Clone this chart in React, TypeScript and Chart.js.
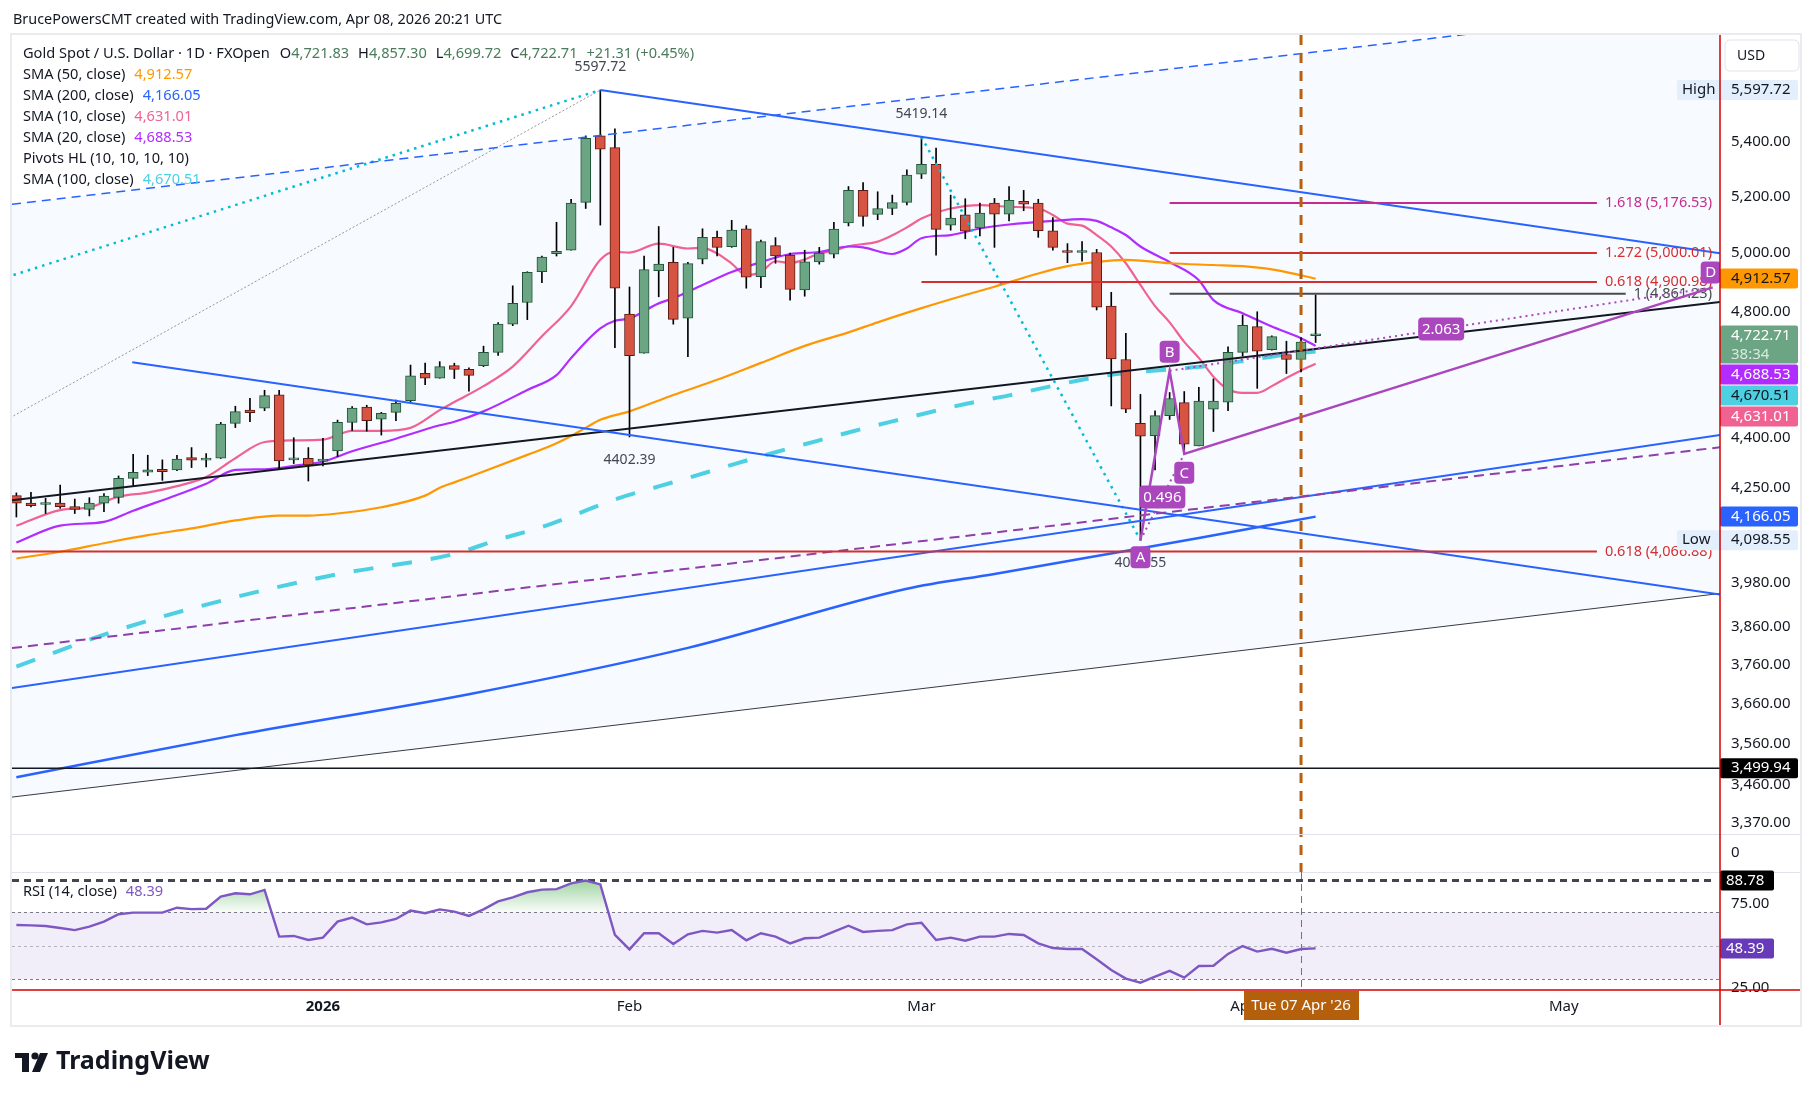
import { useEffect, useRef } from "react";
import { Chart, registerables } from "chart.js";

Chart.register(...registerables);

const FONT = '"Noto Sans", "DejaVu Sans", sans-serif';
const TEXT = "#131722";

// ---------- Daily bars: index 0 = Tue 2 Dec 2025 ... index 89 = Wed 8 Apr 2026 ----------
const opens = [4227,4205,4201,4205,4195,4187,4205,4222,4278,4296, 4305,4303,4340,4332,4338,4444,4485,4491,4533,4333, 4338,4329,4360,4447,4494,4457,4478,4514,4601,4585, 4625,4613,4625,4668,4760,4832,4936,4998,5010,5179, 5423,5379,4793,4665,4940,4968,4780,4979,5055,5022, 5085,4919,5026,4993,4874,4970,4996,5106,5222,5136, 5157,5179,5281,5317,5098,5134,5088,5176,5137,5183, 5176,5078,5005,5002,5002,4820,4645,4444,4406,4468, 4508,4375,4488,4510,4668,4752,4677,4661,4645,4721.83];
const highs = [4235,4237,4219,4258,4217,4221,4233,4285,4350,4347, 4333,4347,4370,4352,4447,4497,4522,4547,4547,4400, 4370,4398,4454,4496,4500,4478,4516,4627,4633,4638, 4633,4618,4688,4765,4888,4936,4990,5108,5190,5423, 5597.72,5449,4884,4990,5093,5020,4968,5085,5077,5115, 5096,5045,5054,5000,5010,5020,5108,5236,5250,5217, 5205,5297,5419.14,5377,5205,5192,5176,5193,5236,5222, 5190,5125,5033,5040,5013,4866,4730,4534,4483,4540, 4543,4556,4583,4686,4790,4801,4722,4704,4716,4857.30];
const lows = [4165,4194,4175,4190,4175,4168,4180,4205,4253,4286, 4272,4301,4310,4312,4337,4431,4449,4483,4305,4322, 4270,4315,4343,4422,4420,4408,4452,4511,4565,4585, 4584,4544,4622,4658,4755,4775,4899,4990,5010,5157, 5098,4683,4402.39,4665,4851,4760,4654,4963,4990,5020, 4880,4882,4965,4840,4853,4962,4983,5095,5094,5117, 5135,5170,5265,4993,5080,5050,5060,5020,5113,5149, 5055,5010,4967,4972,4807,4498,4477,4098.55,4303,4456, 4350,4375,4419,4483,4656,4553,4675,4600,4605,4699.72];
const closes = [4205,4198,4205,4195,4187,4205,4226,4278,4296,4303, 4298,4335,4332,4337,4442,4480,4477,4530,4330,4336, 4318,4333,4447,4491,4452,4475,4506,4593,4585,4622, 4613,4594,4668,4760,4829,4934,4986,5006,5176,5414, 5373,4880,4657,4943,4962,4776,4964,5055,5020,5080, 4917,5040,4990,4876,4970,5000,5084,5222,5129,5157, 5178,5278,5317,5083,5123,5077,5141,5137,5186,5172, 5078,5020,5002,5004,4816,4647,4488,4405,4468,4521, 4380,4513,4513,4668,4756,4672,4719,4645,4701.40,4722.71];

// RSI(14) per bar
const rsiValues = [62.3,62.1,61.7,60.5,59.3,61.3,64.3,68.7,69.7,69.7, 69.7,72.6,71.8,72.0,79.2,81.2,80.6,83.2,55.4,55.8, 53.4,54.8,64.3,66.7,62.7,63.9,65.9,70.9,69.3,71.6, 70.3,67.7,71.6,76.4,78.8,81.8,83.4,83.7,87.1,88.78, 86.5,56.4,47.8,57.4,57.4,51.0,56.8,58.8,57.8,59.3, 53.2,57.4,55.4,51.4,54.4,54.8,58.4,61.9,58.2,58.8, 59.3,62.7,63.7,53.4,54.8,53.0,55.4,55.4,57.0,56.4, 51.4,48.6,48.0,48.0,41.9,35.5,30.4,28.0,31.6,35.0, 31.0,37.9,38.1,45.1,49.8,46.5,48.2,45.8,48.0,48.39];

// Moving averages: [bar index, value]
const sma10Points = [[0,4140],[3,4185],[5,4193],[7,4224],[9,4236],[11,4255],[13,4282],[15,4338],[17,4387],[19,4392],[21,4394],[23,4421],[25,4421],[27,4430],[29,4485],[30,4510],[32,4560],[34,4622],[36,4720],[38,4820],[40,4977],[41,5004],[42,5002],[44,5033],[46,5016],[47,5018],[48,4999],[49,4964],[50,4924],[51,4935],[52,4972],[53,4966],[54,4978],[55,4999],[56,5008],[57,5024],[59,5040],[60,5062],[61,5090],[62,5121],[63,5142],[64,5157],[66,5169],[68,5163],[70,5157],[71,5134],[72,5103],[73,5096],[74,5063],[75,5023],[76,4965],[77,4891],[78,4820],[79,4766],[80,4702],[81,4650],[82,4590],[83,4550],[84,4539],[85,4539],[86,4560],[87,4586],[88,4610],[89,4631.01]];
const sma20Points = [[0,4092],[3,4140],[6,4151],[8,4183],[11,4229],[13,4262],[15,4303],[17,4305],[19,4315],[21,4328],[23,4359],[26,4397],[29,4438],[30,4449],[32,4481],[35,4548],[37,4595],[38,4650],[40,4746],[41,4771],[42,4779],[44,4829],[45,4846],[47,4891],[49,4935],[51,4969],[53,4997],[55,5004],[57,5023],[58,5020],[60,4997],[61,5016],[62,5052],[64,5063],[66,5086],[68,5100],[71,5113],[73,5119],[74,5113],[75,5090],[76,5063],[77,5023],[79,4969],[81,4907],[82,4840],[84,4796],[86,4752],[88,4714],[89,4688.53]];
const sma50Points = [[0,4047],[3,4066],[6,4090],[9,4113],[12,4132],[15,4155],[18,4169],[20,4169],[22,4175],[25,4193],[28,4227],[29,4250],[30,4266],[32,4298],[35,4348],[37,4383],[39,4430],[40,4455],[42,4481],[45,4532],[48,4580],[51,4634],[54,4689],[57,4733],[59,4766],[62,4813],[65,4857],[67,4885],[70,4930],[72,4955],[74,4970],[76,4977],[79,4965],[82,4959],[84,4955],[86,4944],[88,4924],[89,4912.57]];
const sma100Points = [[0,3755],[7,3852],[15,3940],[22,4003],[30,4060],[33,4100],[36,4136],[38,4167],[41,4216],[44,4254],[46,4279],[49,4318],[52,4356],[54,4380],[57,4416],[60,4450],[63,4483],[65,4504],[68,4531],[71,4561],[74,4589],[76,4602],[79,4613],[82,4626],[85,4647],[88,4667],[89,4670.51]];
const sma200Points = [[0,3478],[15,3581],[31,3684],[46,3804],[61,3963],[67,4004],[74,4054],[81,4105],[89,4166.05]];

// Axis ticks
const priceTicks = [5400, 5200, 5000, 4800, 4400, 4250, 3980, 3860, 3760, 3660, 3560, 3460, 3370];
const rsiTicks = [75, 25];
const timeTickIndex = [21, 42, 62, 84, 106];
const timeTickLabels = ["2026", "Feb", "Mar", "Apr", "May"];

// Drawings: [bar index, price] anchor pairs
const channelTop = [[-0.2, 5173], [98.9, 5815]];
const channelMid = [[-0.2, 4214], [116.7, 4834]];
const channelBottom = [[-0.2, 3431], [116.7, 3950]];
const fallingTop = [[40, 5597.72], [62, 5419.14]];
const fallingBottom = [[7.94, 4636], [116.7, 3947]];
const risingSupport = [[-0.2, 3700], [116.7, 4408]];
const purpleDashed = [[-0.2, 3804], [116.7, 4371]];
const cyanRay = [[-0.2, 4925], [40, 5597.72]];
const grayRay = [[-0.2, 4467], [40, 5597.72]];
const cyanDrop = [[62, 5419.14], [77, 4098.55]];
const supportLevel = 3499.94;

const fibRatios = ["1.618", "1.272", "0.618", "1", "0.618"];
const fibPrices = [5176.53, 5000.01, 4900.98, 4861.23, 4066.88];
const fibStarts = [79, 79, 62, 79, -0.3];

const pivotHighs = [[40, 5597.72], [62, 5419.14]];
const pivotLows = [[42, 4402.39], [77, 4098.55]];

const patternIdx = [77, 79, 80, 116.2];
const patternPrice = [4098.55, 4608.74, 4351.04, 4882.7];
const patternLetters = ["A", "B", "C", "D"];
const patternRatios = ["0.496", "2.063"];

const rsiMaxLevel = 88.78;
const crosshairIndex = 88;
const crosshairLabel = "Tue 07 Apr '26";
const countdown = "38:34";

// ---------- styling ----------
const UP = "#6ba583", DOWN = "#d75442", UP_B = "#225437", DOWN_B = "#5b1a13";
const C10 = "#f06292", C20 = "#b12cff", C50 = "#ff9800", C100 = "#4dd0e1", C200 = "#2962ff";
const PURPLE = "#ab47bc";
const RED = "#d32f2f";
const BROWN = "#b8600f";

const X_MIN = -0.3, X_MAX = 116.7;
const PRICE_MIN = 3344, PRICE_MAX = 5815.3;
const RSI_MIN = 23.63, RSI_MAX = 93.87;

const fmt = (v: number) => v.toLocaleString("en-US", { minimumFractionDigits: 2, maximumFractionDigits: 2 });

function rr(ctx: any, x: number, y: number, w: number, h: number, r: number) {
  ctx.beginPath();
  ctx.moveTo(x + r, y);
  ctx.arcTo(x + w, y, x + w, y + h, r);
  ctx.arcTo(x + w, y + h, x, y + h, r);
  ctx.arcTo(x, y + h, x, y, r);
  ctx.arcTo(x, y, x + w, y, r);
  ctx.closePath();
}

function pt(chart: any, p: number[]) {
  return [chart.scales.x.getPixelForValue(p[0]), chart.scales.y.getPixelForValue(p[1])];
}

function lineGeom(chart: any, pts: number[][]) {
  const [x1, y1] = pt(chart, pts[0]);
  const [x2, y2] = pt(chart, pts[1]);
  const k = (y2 - y1) / (x2 - x1);
  return { x1, y1, x2, y2, at: (x: number) => y1 + k * (x - x1) };
}

function stroke(ctx: any, chart: any, pts: number[][], color: string, width: number, dash: number[], extL: boolean, extR: boolean) {
  const a = chart.chartArea;
  const g = lineGeom(chart, pts);
  const xs = extL ? a.left : g.x1;
  const xe = extR ? a.right : g.x2;
  ctx.beginPath();
  ctx.moveTo(xs, g.at(xs));
  ctx.lineTo(xe, g.at(xe));
  ctx.strokeStyle = color;
  ctx.lineWidth = width;
  ctx.setLineDash(dash);
  ctx.stroke();
  ctx.setLineDash([]);
}

function textSegs(ctx: any, x: number, y: number, segs: any[]) {
  for (const s of segs) {
    if (typeof s === "number") { x += s; continue; }
    ctx.fillStyle = s[1];
    ctx.fillText(s[0], x, y);
    x += ctx.measureText(s[0]).width;
  }
}

const pricePlugin = {
  id: "priceDecor",
  beforeDraw(chart: any) {
    const { ctx, chartArea: a } = chart;
    ctx.save();
    ctx.fillStyle = "#ffffff";
    ctx.fillRect(0, 0, chart.width, chart.height);
    ctx.beginPath();
    ctx.rect(a.left, a.top, a.right - a.left, a.bottom - a.top);
    ctx.clip();
    const t = lineGeom(chart, channelTop);
    const b = lineGeom(chart, channelBottom);
    ctx.beginPath();
    ctx.moveTo(a.left, t.at(a.left));
    ctx.lineTo(a.right, t.at(a.right));
    ctx.lineTo(a.right, b.at(a.right));
    ctx.lineTo(a.left, b.at(a.left));
    ctx.closePath();
    ctx.fillStyle = "rgba(33,150,243,0.035)";
    ctx.fill();
    ctx.restore();
  },
  afterDatasetsDraw(chart: any) {
    const { ctx, chartArea: a, scales } = chart;
    const X = (i: number) => scales.x.getPixelForValue(i);
    const Y = (v: number) => scales.y.getPixelForValue(v);
    ctx.save();
    ctx.beginPath();
    ctx.rect(a.left, a.top, a.right - a.left, a.bottom - a.top);
    ctx.clip();
    ctx.lineCap = "butt";

    stroke(ctx, chart, grayRay, "#9598a1", 1, [2, 2], false, false);
    stroke(ctx, chart, cyanRay, "#00bcd4", 2.5, [2.5, 5], false, false);
    stroke(ctx, chart, cyanDrop, "#00bcd4", 2.5, [2.5, 5], false, false);
    stroke(ctx, chart, channelTop, "#2962ff", 1.5, [9, 6], true, true);
    stroke(ctx, chart, channelMid, "#131722", 2, [], true, true);
    stroke(ctx, chart, channelBottom, "#363a45", 1, [], true, true);
    stroke(ctx, chart, fallingTop, "#2962ff", 2, [], false, true);
    stroke(ctx, chart, fallingBottom, "#2962ff", 2, [], false, true);
    stroke(ctx, chart, risingSupport, "#2962ff", 2, [], true, true);
    stroke(ctx, chart, purpleDashed, "#8e3fa8", 2, [10, 6], true, true);

    // horizontal support
    ctx.beginPath();
    ctx.moveTo(a.left, Y(supportLevel));
    ctx.lineTo(a.right, Y(supportLevel));
    ctx.strokeStyle = "#131722";
    ctx.lineWidth = 1.5;
    ctx.stroke();

    // fib levels with labels
    ctx.font = `14.5px ${FONT}`;
    ctx.textBaseline = "middle";
    ctx.textAlign = "left";
    const fibColors = ["#c62a8e", RED, RED, "#4a4a4a", RED];
    fibPrices.forEach((p, k) => {
      const label = `${fibRatios[k]} (${fmt(p)})`;
      const w = ctx.measureText(label).width;
      const tx = a.right - 8 - w;
      const y = Y(p);
      ctx.beginPath();
      ctx.moveTo(Math.max(a.left, X(fibStarts[k])), y);
      ctx.lineTo(tx - 8, y);
      ctx.strokeStyle = fibColors[k];
      ctx.lineWidth = 2;
      ctx.stroke();
      ctx.fillStyle = fibColors[k];
      ctx.fillText(label, tx, y);
    });

    // pattern A-B-C-D
    const P = patternIdx.map((i, k) => [X(i), Y(patternPrice[k])]);
    ctx.strokeStyle = PURPLE;
    ctx.lineWidth = 2.5;
    ctx.beginPath();
    ctx.moveTo(P[0][0], P[0][1]);
    for (let k = 1; k < 4; k++) ctx.lineTo(P[k][0], P[k][1]);
    ctx.stroke();
    ctx.lineWidth = 2;
    ctx.setLineDash([2, 4]);
    ctx.beginPath();
    ctx.moveTo(P[0][0], P[0][1]); ctx.lineTo(P[2][0], P[2][1]);
    ctx.moveTo(P[1][0], P[1][1]); ctx.lineTo(P[3][0], P[3][1]);
    ctx.stroke();
    ctx.setLineDash([]);

    // vertical marker line (price + volume pane)
    ctx.restore();
    ctx.save();
    const vx = X(crosshairIndex);
    ctx.beginPath();
    ctx.moveTo(vx, a.top);
    ctx.lineTo(vx, 872);
    ctx.strokeStyle = BROWN;
    ctx.lineWidth = 3;
    ctx.setLineDash([10, 8]);
    ctx.stroke();
    ctx.setLineDash([]);

    // pivot labels
    ctx.font = `14px ${FONT}`;
    ctx.textAlign = "center";
    ctx.textBaseline = "middle";
    ctx.fillStyle = "#434651";
    pivotHighs.forEach(([i, v]) => ctx.fillText(String(v), X(i), Y(v) - 23));
    pivotLows.forEach(([i, v]) => ctx.fillText(String(v), X(i), Y(v) + 23));

    // pattern labels
    ctx.font = `15px ${FONT}`;
    const boxAt = (cx: number, cy: number, w: number, h: number, txt: string) => {
      ctx.fillStyle = PURPLE;
      rr(ctx, cx - w / 2, cy - h / 2, w, h, 4);
      ctx.fill();
      ctx.fillStyle = "#ffffff";
      ctx.fillText(txt, cx, cy + 0.5);
    };
    ctx.save();
    ctx.beginPath();
    ctx.rect(a.left, a.top, a.right - a.left, a.bottom - a.top);
    ctx.clip();
    boxAt((P[0][0] + P[2][0]) / 2, (P[0][1] + P[2][1]) / 2, 46, 23, patternRatios[0]);
    boxAt((P[1][0] + P[3][0]) / 2, (P[1][1] + P[3][1]) / 2, 46, 23, patternRatios[1]);
    boxAt(P[0][0], P[0][1] + 17, 20, 22, patternLetters[0]);
    boxAt(P[1][0], P[1][1] - 19, 20, 22, patternLetters[1]);
    boxAt(P[2][0], P[2][1] + 19, 20, 22, patternLetters[2]);
    boxAt(P[3][0] - 2, P[3][1] - 15, 20, 22, patternLetters[3]);
    ctx.restore();
    ctx.restore();
  },
  afterDraw(chart: any) {
    const { ctx, chartArea: a, scales } = chart;
    const Y = (v: number) => scales.y.getPixelForValue(v);
    ctx.save();
    ctx.textBaseline = "middle";

    // volume pane separators
    ctx.strokeStyle = "#e0e3eb";
    ctx.lineWidth = 1;
    [a.bottom + 0.5, 872.5].forEach((y) => {
      ctx.beginPath(); ctx.moveTo(a.left, y); ctx.lineTo(1800, y); ctx.stroke();
    });
    ctx.font = `15px ${FONT}`;
    ctx.fillStyle = TEXT;
    ctx.textAlign = "left";
    ctx.fillText("0", a.right + 11, 853);

    // USD button
    ctx.strokeStyle = "#e0e3eb";
    rr(ctx, a.right + 5, 40, 74, 31, 5);
    ctx.fillStyle = "#ffffff";
    ctx.fill();
    ctx.stroke();
    ctx.fillStyle = TEXT;
    ctx.font = `14px ${FONT}`;
    ctx.fillText("USD", a.right + 17, 56);

    // axis price labels
    const last = closes.length - 1;
    const tags: any[] = [
      { v: highs[40], bg: "#e3effd", fg: TEXT, h: 20, side: "High" },
      { v: sma50Points[sma50Points.length - 1][1], bg: C50, fg: TEXT, h: 20 },
      { v: closes[last], bg: UP, fg: "#ffffff", h: 38, sub: countdown },
      { v: sma20Points[sma20Points.length - 1][1], bg: C20, fg: "#ffffff", h: 20 },
      { v: sma100Points[sma100Points.length - 1][1], bg: C100, fg: TEXT, h: 20 },
      { v: sma10Points[sma10Points.length - 1][1], bg: C10, fg: "#ffffff", h: 20 },
      { v: sma200Points[sma200Points.length - 1][1], bg: C200, fg: "#ffffff", h: 20 },
      { v: lows[77], bg: "#e3effd", fg: TEXT, h: 20, side: "Low" },
      { v: supportLevel, bg: "#000000", fg: "#ffffff", h: 20 },
    ];
    tags.forEach((t) => { t.top = Y(t.v) - 10; });
    tags.sort((p, q) => p.top - q.top);
    for (let k = 1; k < tags.length; k++) {
      const prev = tags[k - 1];
      if (tags[k].top < prev.top + prev.h + 1) tags[k].top = prev.top + prev.h + 1;
    }
    ctx.font = `15px ${FONT}`;
    tags.forEach((t) => {
      const left = t.side ? a.right - 43 : a.right;
      ctx.fillStyle = t.bg;
      rr(ctx, left, t.top, 1798 - left, t.h, 2);
      ctx.fill();
      ctx.fillStyle = t.fg;
      ctx.textAlign = "left";
      ctx.fillText(fmt(t.v), a.right + 11, t.top + 10);
      if (t.sub) {
        ctx.fillStyle = "rgba(255,255,255,0.75)";
        ctx.fillText(t.sub, a.right + 11, t.top + 29);
      }
      if (t.side) {
        ctx.fillStyle = TEXT;
        ctx.fillText(t.side, a.right - 38, t.top + 10);
      }
    });

    // title
    ctx.fillStyle = TEXT;
    ctx.font = `14.4px ${FONT}`;
    ctx.textAlign = "left";
    ctx.fillText("BrucePowersCMT created with TradingView.com, Apr 08, 2026 20:21 UTC", 13, 20);

    // legend
    ctx.font = `14.6px ${FONT}`;
    const G = "#4a7c5c";
    textSegs(ctx, 23, 54, [
      ["Gold Spot / U.S. Dollar \u00b7 1D \u00b7 FXOpen", TEXT], 10,
      ["O", TEXT], [fmt(opens[last]), G], 9,
      ["H", TEXT], [fmt(highs[last]), G], 9,
      ["L", TEXT], [fmt(lows[last]), G], 9,
      ["C", TEXT], [fmt(closes[last]), G], 9,
      [`+${(closes[last] - closes[last - 1]).toFixed(2)} (+${((closes[last] / closes[last - 1] - 1) * 100).toFixed(2)}%)`, G],
    ]);
    const rows: any[] = [
      ["SMA (50, close)", sma50Points, C50],
      ["SMA (200, close)", sma200Points, C200],
      ["SMA (10, close)", sma10Points, C10],
      ["SMA (20, close)", sma20Points, C20],
      ["Pivots HL (10, 10, 10, 10)", null, null],
      ["SMA (100, close)", sma100Points, C100],
    ];
    rows.forEach((r, k) => {
      const segs: any[] = [[r[0], TEXT]];
      if (r[1]) { segs.push(9); segs.push([fmt(r[1][r[1].length - 1][1]), r[2]]); }
      textSegs(ctx, 23, 75 + k * 21, segs);
    });

    // TradingView logo
    ctx.fillStyle = "#131722";
    ctx.fillRect(15, 1053, 14, 5);
    ctx.fillRect(22, 1053, 7, 19);
    ctx.beginPath(); ctx.arc(35, 1056, 3.6, 0, Math.PI * 2); ctx.fill();
    ctx.beginPath();
    ctx.moveTo(40, 1053); ctx.lineTo(48, 1053); ctx.lineTo(40, 1072); ctx.lineTo(32, 1072); ctx.closePath(); ctx.fill();
    ctx.font = `bold 25px ${FONT}`;
    ctx.fillText("TradingView", 56, 1062);

    // outer frame
    ctx.strokeStyle = "#e9ebef";
    ctx.lineWidth = 2;
    ctx.strokeRect(11, 34, 1790, 992);
    ctx.restore();
  },
};

const rsiPlugin = {
  id: "rsiDecor",
  beforeDatasetsDraw(chart: any) {
    const { ctx, chartArea: a, scales } = chart;
    const Y = (v: number) => scales.y.getPixelForValue(v);
    ctx.save();
    ctx.fillStyle = "rgba(126,87,194,0.1)";
    ctx.fillRect(a.left, Y(70), a.right - a.left, Y(30) - Y(70));
    ctx.lineWidth = 1;
    [[70, "#787b86"], [30, "#787b86"], [50, "rgba(120,123,134,0.5)"]].forEach(([lv, c]: any) => {
      ctx.strokeStyle = c;
      ctx.setLineDash([3, 3]);
      ctx.beginPath();
      ctx.moveTo(a.left, Math.round(Y(lv)) + 0.5);
      ctx.lineTo(a.right, Math.round(Y(lv)) + 0.5);
      ctx.stroke();
    });
    ctx.strokeStyle = "#434651";
    ctx.lineWidth = 3;
    ctx.setLineDash([7, 5]);
    ctx.beginPath();
    ctx.moveTo(a.left, Y(rsiMaxLevel));
    ctx.lineTo(a.right - 4, Y(rsiMaxLevel));
    ctx.stroke();
    ctx.restore();
  },
  afterDraw(chart: any) {
    const { ctx, chartArea: a, scales } = chart;
    const Y = (v: number) => scales.y.getPixelForValue(v);
    const X = (i: number) => scales.x.getPixelForValue(i);
    ctx.save();
    ctx.textBaseline = "middle";
    ctx.font = `14.6px ${FONT}`;

    // crosshair in RSI pane
    const vx = X(crosshairIndex);
    ctx.strokeStyle = BROWN;
    ctx.lineWidth = 1;
    ctx.setLineDash([7, 5]);
    ctx.beginPath(); ctx.moveTo(vx + 0.5, 872); ctx.lineTo(vx + 0.5, a.bottom); ctx.stroke();
    ctx.setLineDash([]);

    // RSI legend
    textSegs(ctx, 23, 892, [["RSI (14, close)", TEXT], 9, [fmt(rsiValues[rsiValues.length - 1]), "#7e57c2"]]);

    // RSI axis labels
    ctx.font = `15px ${FONT}`;
    const lab = (v: number, bg: string) => {
      const y = Y(v);
      ctx.fillStyle = bg;
      rr(ctx, a.right, y - 10, 54, 20, 2);
      ctx.fill();
      ctx.fillStyle = "#ffffff";
      ctx.textAlign = "left";
      ctx.fillText(fmt(v), a.right + 6, y);
    };
    lab(rsiMaxLevel, "#000000");
    lab(rsiValues[rsiValues.length - 1], "#673ab7");

    // time axis crosshair label
    ctx.fillStyle = "#b35f0c";
    ctx.fillRect(vx - 57, a.bottom + 1, 115, 29);
    ctx.fillStyle = "#ffffff";
    ctx.textAlign = "center";
    ctx.fillText(crosshairLabel, vx, a.bottom + 16);

    // red borders
    ctx.strokeStyle = "#d50000";
    ctx.lineWidth = 1.5;
    ctx.beginPath();
    ctx.moveTo(a.right, 35); ctx.lineTo(a.right, 1025);
    ctx.moveTo(12, a.bottom); ctx.lineTo(1800, a.bottom);
    ctx.stroke();
    ctx.restore();
  },
};

function priceConfig(): any {
  const idx = opens.map((_, i) => i);
  const up = idx.map((i) => closes[i] >= opens[i]);
  const lineDs = (pts: number[][], color: string, width: number, dash: number[] = []) => ({
    type: "line",
    data: pts.map(([x, y]) => ({ x, y })),
    borderColor: color,
    borderWidth: width,
    borderDash: dash,
    pointRadius: 0,
    cubicInterpolationMode: "monotone",
    order: 5,
  });
  return {
    type: "bar",
    data: {
      datasets: [
        lineDs(sma200Points, C200, 2.5),
        lineDs(sma100Points, C100, 4, [20, 19]),
        lineDs(sma50Points, C50, 2.2),
        lineDs(sma20Points, C20, 2.2),
        lineDs(sma10Points, C10, 2.2),
        {
          type: "bar",
          data: idx.map((i) => ({ x: i, y: [lows[i], highs[i]] })),
          backgroundColor: "#000000",
          barThickness: 1,
          grouped: false,
          order: 2,
        },
        {
          type: "bar",
          data: idx.map((i) => ({ x: i, y: [opens[i], closes[i]] })),
          backgroundColor: up.map((u) => (u ? UP : DOWN)),
          borderColor: up.map((u) => (u ? UP_B : DOWN_B)),
          borderWidth: 1,
          borderSkipped: false,
          barThickness: 10,
          minBarLength: 2,
          grouped: false,
          order: 1,
        },
      ],
    },
    options: {
      responsive: false,
      animation: false,
      devicePixelRatio: 1,
      events: [],
      layout: { padding: { left: 12, right: 14, top: 35, bottom: 266 } },
      plugins: { legend: { display: false }, tooltip: { enabled: false } },
      scales: {
        x: { type: "linear", min: X_MIN, max: X_MAX, display: false, offset: false },
        y: {
          type: "logarithmic",
          position: "right",
          min: PRICE_MIN,
          max: PRICE_MAX,
          grid: { display: false, drawTicks: false },
          border: { display: false },
          afterFit: (s: any) => { s.width = 80; },
          afterBuildTicks: (s: any) => { s.ticks = priceTicks.map((v) => ({ value: v })); },
          ticks: {
            autoSkip: false,
            padding: 11,
            color: TEXT,
            font: { family: FONT, size: 15 },
            callback: (v: any) => fmt(Number(v)),
          },
        },
      },
    },
    plugins: [pricePlugin],
  };
}

function rsiConfig(canvas: HTMLCanvasElement): any {
  const g = canvas.getContext("2d")!.createLinearGradient(0, 876, 0, 912);
  g.addColorStop(0, "rgba(76,175,80,0.6)");
  g.addColorStop(1, "rgba(76,175,80,0.03)");
  return {
    type: "line",
    data: {
      datasets: [
        {
          data: rsiValues.map((v, i) => ({ x: i, y: v })),
          borderColor: "#7e57c2",
          borderWidth: 2.4,
          pointRadius: 0,
          fill: { value: 70, above: g, below: "rgba(0,0,0,0)" },
        },
      ],
    },
    options: {
      responsive: false,
      animation: false,
      devicePixelRatio: 1,
      events: [],
      layout: { padding: { left: 12, right: 14, top: 872, bottom: 75 } },
      plugins: { legend: { display: false }, tooltip: { enabled: false } },
      scales: {
        x: {
          type: "linear",
          min: X_MIN,
          max: X_MAX,
          offset: false,
          grid: { display: false, drawTicks: false },
          border: { display: false },
          afterFit: (s: any) => { s.height = 35; },
          afterBuildTicks: (s: any) => { s.ticks = timeTickIndex.map((v) => ({ value: v })); },
          ticks: {
            autoSkip: false,
            maxRotation: 0,
            padding: 8,
            color: TEXT,
            font: (c: any) => ({ family: FONT, size: 15, weight: c.tick && c.tick.value === timeTickIndex[0] ? "bold" : "normal" }),
            callback: (v: any) => timeTickLabels[timeTickIndex.indexOf(Number(v))] ?? "",
          },
        },
        y: {
          type: "linear",
          position: "right",
          min: RSI_MIN,
          max: RSI_MAX,
          grid: { display: false, drawTicks: false },
          border: { display: false },
          afterFit: (s: any) => { s.width = 80; },
          afterBuildTicks: (s: any) => { s.ticks = rsiTicks.map((v) => ({ value: v })); },
          ticks: { autoSkip: false, padding: 11, color: TEXT, font: { family: FONT, size: 15 }, callback: (v: any) => Number(v).toFixed(2) },
        },
      },
    },
    plugins: [rsiPlugin],
  };
}

export default function App() {
  const priceRef = useRef<HTMLCanvasElement>(null);
  const rsiRef = useRef<HTMLCanvasElement>(null);
  useEffect(() => {
    const c1 = new Chart(priceRef.current!, priceConfig());
    const c2 = new Chart(rsiRef.current!, rsiConfig(rsiRef.current!));
    return () => {
      c1.destroy();
      c2.destroy();
    };
  }, []);
  return (
    <div style={{ position: "absolute", left: 0, top: 0, width: 1814, height: 1100, background: "#ffffff", overflow: "hidden" }}>
      <canvas ref={priceRef} width={1814} height={1100} style={{ position: "absolute", left: 0, top: 0 }} />
      <canvas ref={rsiRef} width={1814} height={1100} style={{ position: "absolute", left: 0, top: 0 }} />
    </div>
  );
}
